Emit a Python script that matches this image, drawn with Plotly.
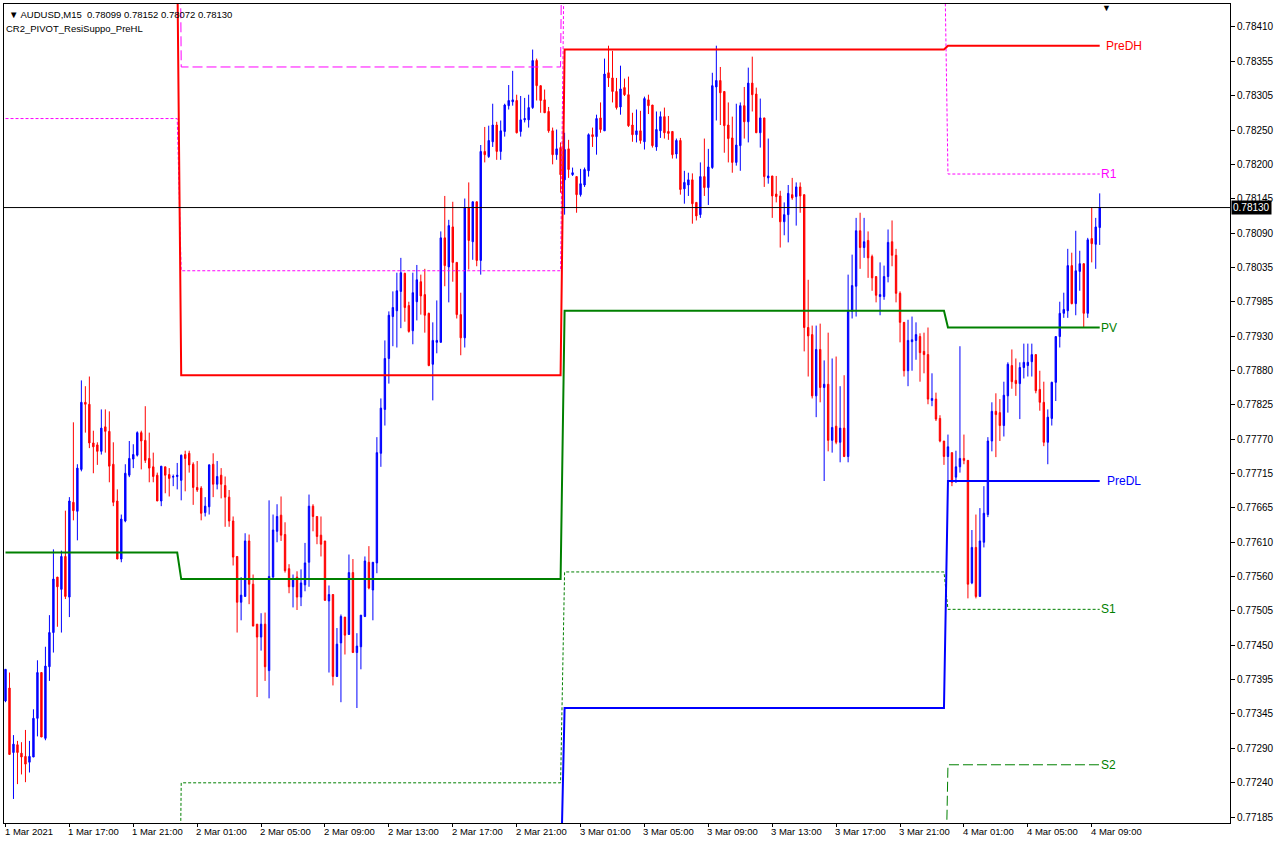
import numpy as np
import pandas as pd
import plotly.graph_objects as go

# ---------------- data (prices in points, 1 point = 0.00001) ----------------
opens = [77365,77385,77285,77297,77284,77279,77270,77278,77338,77409,77307,77418,77471,77557,77538,77589,77526,77673,77659,77724,
 77828,77825,77765,77762,77752,77790,77783,77732,77675,77585,77644,77715,77740,77746,77781,77769,77741,77728,77715,77675,
 77728,77716,77712,77713,77707,77747,77749,77732,77696,77695,77657,77666,77732,77701,77715,77699,77681,77644,77589,77518,
 77527,77613,77546,77484,77464,77484,77412,77557,77628,77653,77623,77570,77542,77557,77526,77545,77580,77667,77651,77622,
 77613,77520,77530,77403,77455,77495,77468,77564,77440,77449,77496,77580,77537,77579,77749,77817,77896,77961,77970,78000,
 78028,77978,77939,77984,78015,77995,77966,77887,77921,77921,78083,78038,78100,78045,77964,77928,78130,78077,78139,78048,
 78217,78209,78232,78258,78217,78248,78288,78294,78296,78248,78266,78266,78285,78358,78319,78297,78279,78249,78212,78223,
 78173,78221,78181,78178,78150,78165,78187,78243,78240,78269,78249,78339,78331,78310,78286,78316,78305,78258,78243,78249,
 78232,78297,78289,78224,78249,78271,78248,78248,78213,78234,78159,78165,78173,78138,78119,78178,78161,78192,78317,78327,
 78310,78258,78238,78200,78226,78288,78263,78323,78306,78246,78269,78176,78179,78151,78148,78108,78119,78150,78147,78162,
 78150,77944,77933,77838,77910,77851,77856,77769,77791,77766,77788,77744,77969,78008,78094,78068,78079,78054,78023,77992,
 77992,78023,78077,78056,77997,77952,77877,77922,77924,77930,77907,77902,77831,77833,77803,77768,77744,77750,77712,77728,
 77741,77738,77548,77603,77527,77611,77654,77768,77814,77812,77792,77838,77885,77862,77857,77882,77885,77891,77902,77848,
 77828,77766,77803,77859,77930,77966,77970,78040,77981,78031,78043,77966,78082,78073,78099]
highs = [77414,77409,77312,77303,77301,77320,77303,77352,77428,77409,77449,77498,77600,77557,77598,77660,77681,77797,77732,77862,
 77853,77868,77784,77766,77817,77817,77814,77766,77693,77654,77732,77768,77763,77783,77784,77822,77781,77750,77719,77729,
 77728,77726,77716,77734,77747,77753,77753,77735,77737,77698,77681,77732,77749,77737,77726,77713,77692,77651,77589,77557,
 77625,77623,77561,77484,77501,77502,77676,77654,77670,77682,77642,77577,77561,77566,77569,77610,77685,77670,77651,77651,
 77613,77544,77530,77478,77499,77495,77592,77585,77470,77498,77589,77605,77580,77774,77834,77924,77969,78000,78029,78052,
 78029,77984,78029,78041,78026,78035,77967,77952,77986,78093,78148,78111,78139,78045,77998,78144,78169,78139,78139,78227,
 78255,78257,78291,78263,78265,78291,78320,78342,78305,78303,78300,78305,78375,78361,78319,78313,78286,78254,78251,78231,
 78246,78235,78192,78178,78190,78192,78245,78254,78274,78293,78361,78381,78373,78331,78350,78330,78333,78277,78282,78280,
 78302,78305,78289,78279,78279,78285,78272,78248,78237,78238,78187,78184,78183,78138,78200,78237,78221,78339,78381,78348,
 78310,78293,78271,78291,78293,78317,78347,78364,78316,78299,78269,78237,78179,78179,78156,78138,78165,78176,78169,78169,
 78150,78018,77947,77947,77950,77893,77936,77896,77899,77853,77870,78026,78057,78114,78122,78114,78093,78057,78023,78045,
 78040,78096,78110,78066,78000,77952,77956,77961,77952,77935,77936,77944,77873,77843,77808,77768,77778,77750,77753,77915,
 77778,77738,77630,77654,77664,77698,77774,77828,77842,77833,77860,77890,77910,77896,77890,77919,77919,77919,77902,77877,
 77860,77817,77860,77930,77984,77998,78066,78060,78094,78063,78043,78083,78130,78114,78152]
lows = [77363,77282,77213,77236,77251,77239,77254,77278,77310,77309,77304,77396,77440,77480,77471,77523,77495,77645,77614,77721,
 77781,77757,77718,77731,77747,77750,77704,77667,77585,77580,77642,77712,77726,77744,77724,77734,77704,77704,77675,77667,
 77687,77682,77698,77693,77676,77690,77719,77669,77689,77645,77651,77654,77681,77693,77679,77635,77635,77575,77471,77490,
 77527,77515,77481,77371,77443,77396,77369,77555,77611,77613,77564,77532,77510,77506,77512,77535,77542,77628,77608,77589,
 77520,77409,77389,77402,77363,77437,77468,77440,77354,77414,77495,77538,77490,77563,77728,77792,77857,77915,77913,77943,
 77953,77936,77918,77955,77964,77936,77884,77831,77904,77921,78008,77983,78015,77958,77901,77913,78034,78049,78039,78026,
 78200,78207,78224,78204,78204,78240,78282,78288,78245,78240,78262,78254,78283,78296,78277,78277,78246,78197,78204,78153,
 78119,78176,78179,78122,78147,78162,78178,78224,78212,78246,78249,78317,78293,78282,78274,78303,78255,78232,78231,78229,
 78220,78275,78223,78218,78238,78237,78235,78206,78206,78150,78136,78148,78105,78110,78114,78148,78134,78190,78265,78258,
 78215,78200,78184,78195,78187,78237,78231,78279,78246,78223,78162,78167,78114,78138,78068,78087,78076,78142,78102,78122,
 77907,77868,77834,77805,77828,77706,77752,77750,77763,77735,77743,77735,77958,77961,78035,78052,78021,78001,77983,77963,
 77987,78014,78039,77983,77921,77868,77853,77877,77894,77860,77873,77825,77822,77799,77766,77731,77704,77698,77703,77719,
 77732,77524,77546,77524,77527,77603,77650,77752,77743,77768,77775,77812,77849,77838,77802,77865,77868,77868,77842,77815,
 77760,77732,77792,77830,77913,77959,77959,77980,77963,78001,77944,77959,78045,78035,78072]
closes = [77414,77282,77298,77285,77278,77267,77279,77338,77409,77309,77419,77471,77554,77542,77589,77527,77675,77660,77726,77828,
 77825,77765,77759,77752,77788,77783,77729,77673,77585,77647,77718,77741,77747,77781,77768,77738,77726,77713,77675,77729,
 77715,77710,77713,77715,77746,77741,77731,77696,77692,77656,77667,77731,77701,77713,77701,77681,77644,77588,77518,77529,
 77613,77546,77481,77464,77484,77418,77558,77630,77651,77622,77567,77542,77555,77526,77548,77579,77667,77651,77620,77608,
 77521,77530,77403,77453,77496,77467,77564,77440,77450,77498,77582,77540,77580,77750,77819,77896,77963,77975,78001,78029,
 77975,77938,77998,78018,77993,77963,77885,77924,77924,78083,78040,78102,78045,77964,77928,78130,78079,78139,78048,78217,
 78212,78234,78258,78217,78249,78289,78296,78297,78246,78266,78268,78285,78358,78319,78296,78277,78249,78212,78221,78181,
 78220,78189,78184,78150,78167,78189,78243,78240,78268,78251,78337,78331,78310,78285,78314,78305,78257,78243,78249,78234,
 78299,78288,78226,78251,78271,78246,78245,78212,78234,78158,78169,78173,78136,78117,78178,78161,78193,78319,78327,78308,
 78257,78237,78200,78227,78288,78263,78323,78305,78246,78269,78178,78179,78148,78147,78108,78119,78152,78145,78162,78148,
 77944,77931,77838,77910,77851,77856,77769,77789,77766,77788,77744,77969,78009,78094,78068,78077,78052,78021,77994,77995,
 78023,78076,78056,77997,77952,77877,77924,77925,77933,77905,77902,77833,77834,77802,77768,77744,77759,77704,77728,77741,
 77738,77546,77603,77527,77613,77656,77768,77814,77809,77792,77839,77887,77860,77857,77882,77890,77890,77902,77846,77828,
 77766,77805,77859,77930,77966,77972,78040,77981,78032,78043,77966,78080,78074,78100,78130]

# daily indicator levels (one value per trading day shown: 1, 2, 3, 4 Mar)
pre_dh = [78520, 77870, 78375, 78381]
pre_dl = [76922, 77076, 77354, 77706]
pivot  = [77595, 77554, 77970, 77944]
r1     = [78268, 78032, 78586, 78182]
s1     = [76670, 77238, 77565, 77507]
r2     = [79193, 78348, 78991, 78619]
s2     = [75997, 76760, 76949, 77266]

y_tick_labels = ["0.78410","0.78355","0.78305","0.78250","0.78200","0.78145","0.78090","0.78035",
                 "0.77985","0.77930","0.77880","0.77825","0.77770","0.77715","0.77665","0.77610",
                 "0.77560","0.77505","0.77450","0.77395","0.77345","0.77290","0.77240","0.77185"]
x_tick_labels = ["1 Mar 2021","1 Mar 17:00","1 Mar 21:00","2 Mar 01:00","2 Mar 05:00","2 Mar 09:00",
                 "2 Mar 13:00","2 Mar 17:00","2 Mar 21:00","3 Mar 01:00","3 Mar 05:00","3 Mar 09:00",
                 "3 Mar 13:00","3 Mar 17:00","3 Mar 21:00","4 Mar 01:00","4 Mar 05:00","4 Mar 09:00"]
x_tick_times = ["2021-03-01 13:00","2021-03-01 17:00","2021-03-01 21:00","2021-03-02 01:00",
                "2021-03-02 05:00","2021-03-02 09:00","2021-03-02 13:00","2021-03-02 17:00",
                "2021-03-02 21:00","2021-03-03 01:00","2021-03-03 05:00","2021-03-03 09:00",
                "2021-03-03 13:00","2021-03-03 17:00","2021-03-03 21:00","2021-03-04 01:00",
                "2021-03-04 05:00","2021-03-04 09:00"]
symbol_title = "\u25BC AUDUSD,M15\u00a0\u00a00.78099 0.78152 0.78072 0.78130"
indicator_name = "CR2_PIVOT_ResiSuppo_PreHL"
last_price = 0.78130

# ---------------- build ----------------
P = 1e-5
o = np.array(opens) * P
h = np.array(highs) * P
l = np.array(lows) * P
c = np.array(closes) * P
n = len(c)
bar = pd.Timedelta(minutes=15)
times = pd.date_range("2021-03-01 13:00", periods=n, freq="15min")
day_idx = pd.factorize(pd.Index(times.date))[0]

def per_bar(levels):
    return np.array(levels)[day_idx] * P

RED, BLUE, GREEN, MAG = "#FF0000", "#0000FF", "#008000", "#FF00FF"
FONT = "Liberation Sans, Arial, sans-serif"

fig = go.Figure()
fig.add_trace(go.Candlestick(
    x=times, open=o, high=h, low=l, close=c,
    increasing=dict(line=dict(color=BLUE, width=1), fillcolor=BLUE),
    decreasing=dict(line=dict(color=RED, width=1), fillcolor=RED),
    whiskerwidth=0, showlegend=False, hoverinfo="skip"))

lines = [
    (r2, MAG, 1, "10px,4px"), (r1, MAG, 1, "3px,2px"),
    (s1, GREEN, 1, "3px,2px"), (s2, GREEN, 1, "10px,4px"),
    (pivot, GREEN, 2, "solid"), (pre_dh, RED, 2, "solid"), (pre_dl, BLUE, 2, "solid"),
]
for lv, col, w, dash in lines:
    fig.add_trace(go.Scatter(x=times, y=per_bar(lv), mode="lines",
                             line=dict(color=col, width=w, dash=dash),
                             showlegend=False, hoverinfo="skip"))

# current price line
fig.add_shape(type="line", xref="paper", x0=0, x1=1, yref="y", y0=last_price, y1=last_price,
              line=dict(color="black", width=1))

ann = []
# level labels at right end
t_last = times[-1]
for text, val, col, xs in [("PreDH", pre_dh[-1], RED, 4), ("R1", r1[-1], MAG, -1),
                           ("PV", pivot[-1], GREEN, -1), ("PreDL", pre_dl[-1], BLUE, 5),
                           ("S1", s1[-1], GREEN, -1), ("S2", s2[-1], GREEN, -1)]:
    ann.append(dict(x=t_last, y=val * P, xref="x", yref="y", text=text, showarrow=False,
                    xanchor="left", yanchor="middle", xshift=xs,
                    font=dict(family=FONT, size=12, color=col)))
# x tick labels
for t, txt in zip(x_tick_times, x_tick_labels):
    ann.append(dict(x=pd.Timestamp(t), y=0, xref="x", yref="paper", text=txt, showarrow=False,
                    xanchor="left", yanchor="top", xshift=-3, yshift=-1,
                    font=dict(family=FONT, size=9.5, color="black")))
# price box
ann.append(dict(x=1, y=last_price, xref="paper", yref="y", text=f"{last_price:.5f}",
                showarrow=False, xanchor="left", yanchor="middle", xshift=1,
                bgcolor="black", borderpad=1, font=dict(family=FONT, size=10, color="white")))
# header texts
W, H, L0, B0 = 1228, 819, 3, 823
ann.append(dict(x=(6 - L0) / W, y=(B0 - 15) / H, xref="paper", yref="paper", text=symbol_title,
                showarrow=False, xanchor="left", yanchor="middle",
                font=dict(family=FONT, size=9.5, color="black")))
ann.append(dict(x=(3 - L0) / W, y=(B0 - 28) / H, xref="paper", yref="paper", text=indicator_name,
                showarrow=False, xanchor="left", yanchor="middle",
                font=dict(family=FONT, size=9.5, color="black")))
ann.append(dict(x=(1107 - L0) / W, y=(B0 - 8) / H, xref="paper", yref="paper", text="\u25BC",
                showarrow=False, xanchor="center", yanchor="middle",
                font=dict(family=FONT, size=9, color="black")))

ymin = 0.77185 - 6 * 1.5495e-5
ymax = 0.78410 + 23 * 1.5495e-5
fig.update_layout(
    width=1277, height=842,
    margin=dict(l=3, r=46, t=4, b=19),
    paper_bgcolor="white", plot_bgcolor="white",
    boxgap=0.5,
    annotations=ann,
    font=dict(family=FONT, size=10, color="black"),
    xaxis=dict(type="date", range=[times[0] - 0.375 * bar, times[0] + 306.625 * bar],
               rangeslider=dict(visible=False), showgrid=False, zeroline=False,
               showline=True, mirror=True, linecolor="black", linewidth=1,
               tickvals=[pd.Timestamp(t) for t in x_tick_times], ticks="outside",
               ticklen=3, tickcolor="black", showticklabels=False),
    yaxis=dict(range=[ymin, ymax], side="right", showgrid=False, zeroline=False,
               showline=True, mirror=True, linecolor="black", linewidth=1,
               tickvals=list(np.linspace(0.78410, 0.77185, len(y_tick_labels))),
               ticktext=y_tick_labels, ticks="outside", ticklen=4, tickcolor="black",
               tickfont=dict(family=FONT, size=10, color="black")),
    hovermode=False,
)
fig.write_html("out.html", config={"displayModeBar": False},
               post_script="document.body.style.margin='0';document.body.style.overflow='hidden';")
